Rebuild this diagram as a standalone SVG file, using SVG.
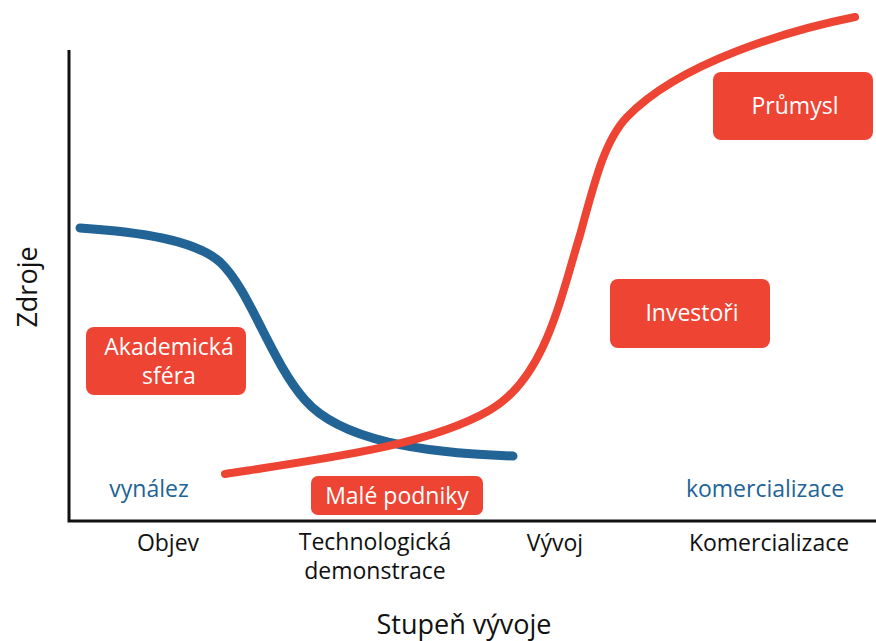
<svg xmlns="http://www.w3.org/2000/svg" width="876" height="641" viewBox="0 0 876 641">
<style>
text{font-family:"Open Sans","Liberation Sans",sans-serif}
.box{fill:#ee4433}
.bt{fill:#fff;font-size:23px;text-anchor:middle}
.ax{fill:#111;font-size:23px;text-anchor:middle}
.bl{fill:#236496;font-size:23px;text-anchor:middle}
</style>
<rect width="876" height="641" fill="#fff"/>
<g id="axes" stroke="#111" stroke-width="3" fill="none">
<path d="M69,50 V521 H876"/>
</g>
<g id="connectors" fill="none" stroke-linecap="round">
<path d="M80,228 C140,232 195,240 220,262 C250,290 270,360 305,400 C340,440 420,453 513,456" stroke="#236496" stroke-width="9"/>
<path d="M225,474 C330,458 430,445 490,410 C545,378 560,300 580,235 C595,180 605,140 627,117 C680,62 790,30 855,17" stroke="#ee4433" stroke-width="8"/>
</g>
<g id="akademicka">
<rect class="box" x="86" y="327" width="160" height="68" rx="8"/>
<text class="bt" x="169" y="355">Akademická</text>
<text class="bt" x="169" y="384">sféra</text>
</g>
<g id="male-podniky">
<rect class="box" x="311" y="476" width="172" height="39" rx="7"/>
<text class="bt" x="397" y="504">Malé podniky</text>
</g>
<g id="prumysl">
<rect class="box" x="713" y="72" width="160" height="68" rx="8"/>
<text class="bt" x="795" y="114">Průmysl</text>
</g>
<g id="investori">
<rect class="box" x="610" y="279" width="160" height="69" rx="8"/>
<text class="bt" x="692" y="321">Investoři</text>
</g>
<g id="labels">
<text class="bl" x="149" y="497">vynález</text>
<text class="bl" x="765" y="497">komercializace</text>
<text class="ax" x="168" y="551">Objev</text>
<text class="ax" x="375" y="550">Technologická</text>
<text class="ax" x="375" y="579">demonstrace</text>
<text class="ax" x="555" y="551">Vývoj</text>
<text class="ax" x="769" y="551">Komercializace</text>
<text class="ax" x="464" y="634" style="font-size:27px">Stupeň vývoje</text>
<text class="ax" transform="translate(37,287) rotate(-90)" style="font-size:27px">Zdroje</text>
</g>
</svg>
